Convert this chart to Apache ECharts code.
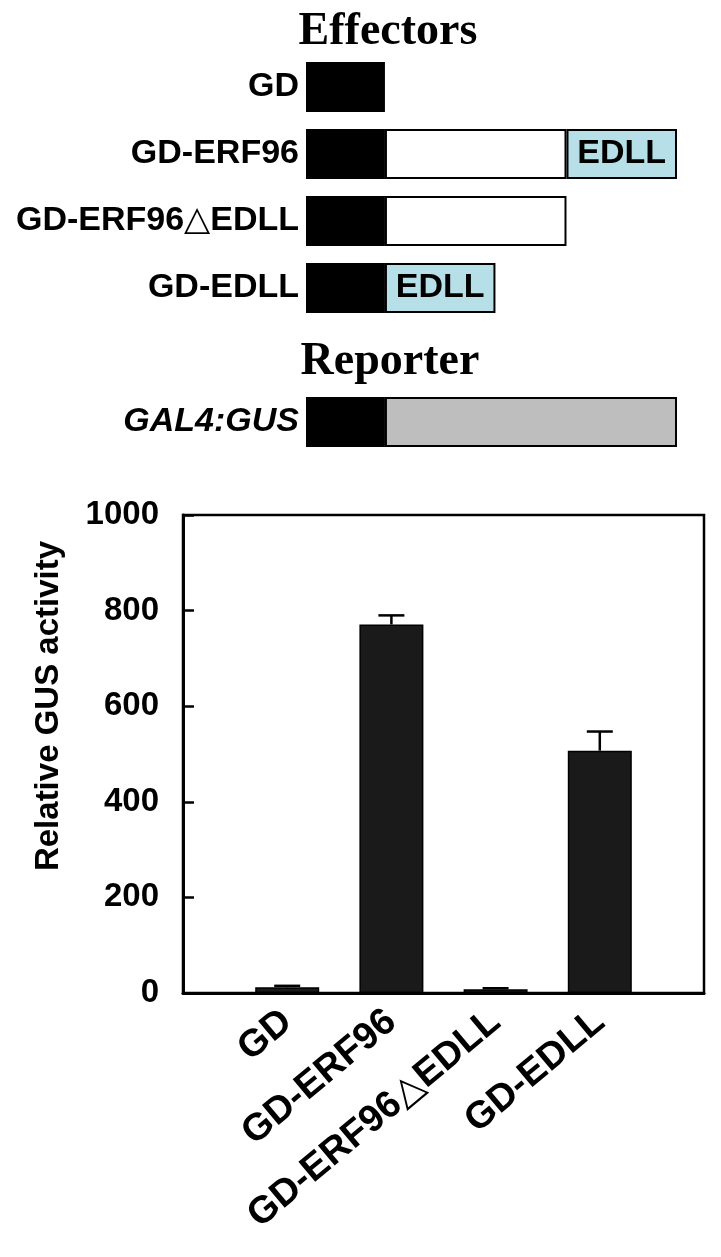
<!DOCTYPE html>
<html>
<head>
<meta charset="utf-8">
<script src="https://cdn.jsdelivr.net/npm/echarts@6/dist/echarts.min.js"></script>
<style>
  html, body { margin: 0; padding: 0; background: #fff; }
  #main { width: 721px; height: 1257px; }
</style>
</head>
<body>
<div id="main"></div>
<script>
// construct diagram (top): rows and domain lengths, in units of the GD domain width
const constructs = ['GD', 'GD-ERF96', 'GD-ERF96△EDLL', 'GD-EDLL', '', 'GAL4:GUS'];
const gdDomain = [1, 1, 1, 1, null, 1];
const erfDomain = [null, 2.3, 2.3, null, null, null];
const edllDomain = [null, 1.4, null, 1.4, null, null];
const gusDomain = [null, null, null, null, null, 3.7];

// GUS assay (bottom)
const categories = ['GD', 'GD-ERF96', 'GD-ERF96△EDLL', 'GD-EDLL'];
const gusActivity = [12, 771, 8, 507];
const gusError = [3, 19, 2, 40];
const yTicks = [0, 200, 400, 600, 800, 1000];

const sans = "'Liberation Sans', Arial, 'DejaVu Sans', sans-serif";
const serif = "'Liberation Serif', 'Times New Roman', serif";

const myChart = echarts.init(document.getElementById('main'));

// one stacked segment of the diagram
function domain(name, data, color, withLabel) {
  return {
    name: name,
    type: 'bar',
    stack: 'construct',
    xAxisIndex: 0,
    yAxisIndex: 0,
    barWidth: 50,
    data: data,
    itemStyle: { color: color, borderColor: '#000', borderWidth: 2 },
    label: {
      show: withLabel,
      position: 'inside',
      formatter: 'EDLL',
      color: '#000',
      fontFamily: sans,
      fontWeight: 'bold',
      fontSize: 34
    },
    silent: true
  };
}

const option = {
  backgroundColor: '#fff',
  animation: false,
  // titles above the two parts of the diagram
  graphic: [
    { type: 'text', x: 388, y: 32, style: { text: 'Effectors', font: 'bold 46px ' + serif, fill: '#000', align: 'center', verticalAlign: 'middle' } },
    { type: 'text', x: 390, y: 362, style: { text: 'Reporter', font: 'bold 46px ' + serif, fill: '#000', align: 'center', verticalAlign: 'middle' } }
  ],
  grid: [
    { left: 306, right: 44, top: 53.5, height: 402 },
    { left: 183, right: 17, top: 515, bottom: 264, show: true, borderColor: '#000', borderWidth: 2.5, backgroundColor: 'transparent' }
  ],
  xAxis: [
    { gridIndex: 0, type: 'value', min: 0, max: 4.7, show: false },
    {
      gridIndex: 1,
      type: 'value',
      min: 0,
      max: 5,
      interval: 1,
      axisLine: { show: true, lineStyle: { color: '#000', width: 3 } },
      axisTick: { show: false },
      splitLine: { show: false },
      axisLabel: {
        rotate: 40,
        margin: 24,
        color: '#000',
        fontFamily: sans,
        fontWeight: 'bold',
        fontSize: 38,
        showMinLabel: true,
        showMaxLabel: true,
        formatter: function (v) {
          return categories[v - 1] || '';
        }
      }
    }
  ],
  yAxis: [
    {
      gridIndex: 0,
      type: 'category',
      inverse: true,
      data: constructs,
      axisLine: { show: false },
      axisTick: { show: false },
      axisLabel: {
        margin: 7,
        color: '#000',
        fontFamily: sans,
        fontWeight: 'bold',
        fontSize: 34,
        formatter: function (v) {
          return v === 'GAL4:GUS' ? '{it|' + v + '}' : v;
        },
        rich: {
          it: { fontStyle: 'italic', fontWeight: 'bold', fontSize: 34, fontFamily: sans, color: '#000' }
        }
      }
    },
    {
      gridIndex: 1,
      type: 'value',
      min: yTicks[0],
      max: yTicks[yTicks.length - 1],
      interval: yTicks[1] - yTicks[0],
      name: 'Relative GUS activity',
      nameLocation: 'middle',
      nameGap: 118,
      nameTextStyle: { color: '#000', fontFamily: sans, fontWeight: 'bold', fontSize: 33, padding: [0, 0, 0, 96] },
      axisLine: { show: true, lineStyle: { color: '#000', width: 3 } },
      axisTick: { show: true, inside: true, length: 11, lineStyle: { color: '#000', width: 2.5 } },
      splitLine: { show: false },
      axisLabel: {
        margin: 24, color: '#000', fontFamily: sans, fontWeight: 'bold', fontSize: 33,
        formatter: function (v) { return String(v); }
      }
    }
  ],
  series: [
    domain('GD', gdDomain, '#000', false),
    domain('ERF96', erfDomain, '#fff', false),
    domain('EDLL', edllDomain, '#b7dfe8', true),
    domain('GUS', gusDomain, '#bebebe', false),
    {
      name: 'GUS activity',
      type: 'bar',
      xAxisIndex: 1,
      yAxisIndex: 1,
      barWidth: 64,
      data: gusActivity.map((v, i) => [i + 1, v]),
      itemStyle: { color: '#1a1a1a', borderColor: '#000', borderWidth: 1.5 }
    },
    {
      name: 'SD',
      type: 'custom',
      xAxisIndex: 1,
      yAxisIndex: 1,
      z: 5,
      data: gusActivity.map((v, i) => [i + 1, v, gusError[i]]),
      renderItem: function (params, api) {
        const x = api.value(0);
        const base = api.coord([x, api.value(1)]);
        const top = api.coord([x, api.value(1) + api.value(2)]);
        const half = 13;
        const st = { stroke: '#000', lineWidth: 2.5 };
        return {
          type: 'group',
          children: [
            { type: 'line', shape: { x1: top[0], y1: base[1], x2: top[0], y2: top[1] }, style: st },
            { type: 'line', shape: { x1: top[0] - half, y1: top[1], x2: top[0] + half, y2: top[1] }, style: st }
          ]
        };
      }
    }
  ]
};

myChart.setOption(option);

window.addEventListener('resize', () => {
  myChart.resize();
});
</script>
</body>
</html>
